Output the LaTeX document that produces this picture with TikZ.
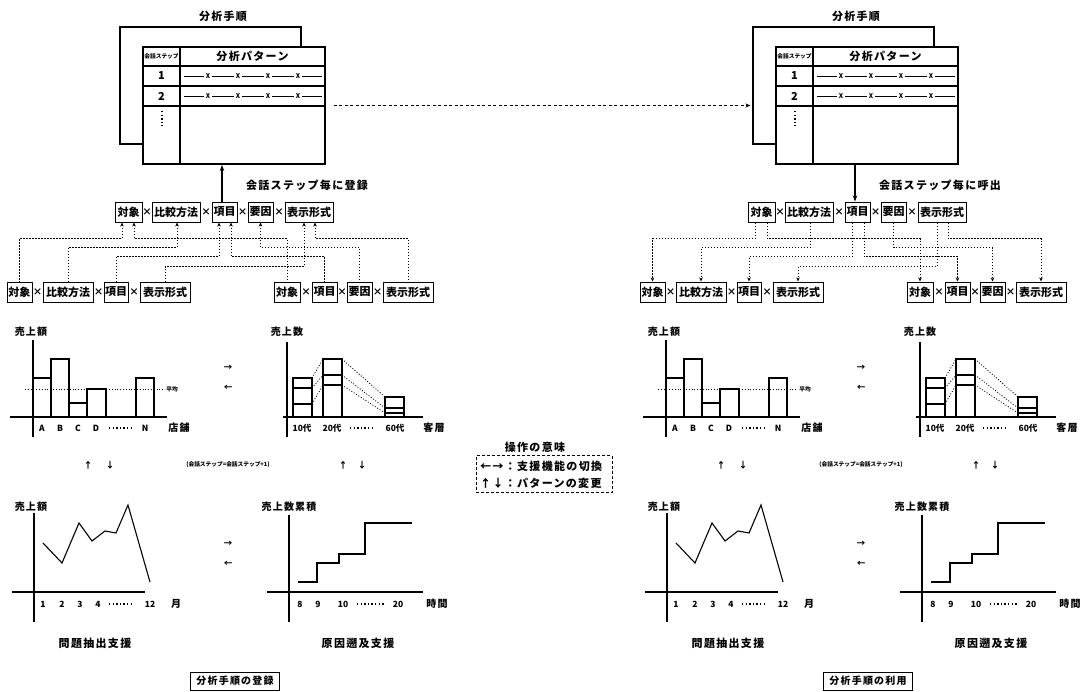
\documentclass[tikz,border=0pt]{standalone}
\usepackage{fontspec}
\setmainfont{Noto Sans CJK JP}
\usetikzlibrary{arrows.meta}
\newcommand\lsp{\addfontfeature{LetterSpace=12}}
\tikzset{
  ln/.style={line width=1.1pt},
  box/.style={draw, line width=1pt, minimum height=20pt, inner sep=0pt, font=\fontsize{11}{12}\selectfont\bfseries},
  tms/.style={inner sep=0pt, font=\fontsize{9.5}{10}\selectfont\bfseries},
  tbl/.style={draw, line width=1.1pt, inner sep=0pt},
  ttl/.style={inner sep=0pt, font=\fontsize{11}{12}\selectfont\bfseries\lsp},
  ylab/.style={inner sep=0pt, font=\fontsize{10}{11}\selectfont\bfseries\lsp},
  tk/.style={inner sep=0pt, font=\fontsize{8.5}{9}\selectfont\bfseries},
  tiny/.style={inner sep=0pt, font=\fontsize{5.7}{6}\selectfont\bfseries},
  pat/.style={inner sep=0pt, font=\fontsize{6.5}{6}\selectfont\bfseries},
  conL/.style={line width=1pt, dash pattern=on 1.5pt off 1.5pt, {Stealth[length=4pt,width=3.5pt]}-},
  conR/.style={line width=1pt, dash pattern=on 1.5pt off 1.5pt, -{Stealth[length=4pt,width=3.5pt]}},
  mainL/.style={line width=1.1pt, {Stealth[length=6pt,width=4.5pt]}-},
  mainR/.style={line width=1.1pt, -{Stealth[length=6pt,width=4.5pt]}},
  dotln/.style={line width=1.4pt, dash pattern=on 1.4pt off 2.2pt},
  avg/.style={line width=0.8pt, dash pattern=on 1pt off 1.8pt},
  capbox/.style={draw, line width=1pt, minimum width=89pt, minimum height=18pt, inner sep=0pt, font=\fontsize{10}{11}\selectfont\bfseries\lsp},
  capt/.style={inner sep=0pt, font=\fontsize{11}{12}\selectfont\bfseries\lsp},
  sym/.style={inner sep=0pt, font=\fontsize{8.5}{9}\selectfont\bfseries},
  lg/.style={inner sep=0pt, font=\fontsize{11}{12}\selectfont\bfseries\lsp},
  link/.style={line width=1pt, dash pattern=on 3pt off 2.5pt, -{Stealth[length=5pt,width=4pt]}}
}
\newcommand\bxn[5]{\node[box, minimum width=#4pt] (#1) at (#2,#3) {#5};}
\newcommand\tmsat[3]{\node[tms] (#1) at (#2,#3) {×};}
\newcommand\half[6]{%
\begin{scope}[xshift=#2pt]
% ---- table ----
\node[tbl, minimum width=181pt, minimum height=117pt] (#1-back) at (210.5,85.5) {};
\node[tbl, fill=white, minimum width=182pt, minimum height=117pt] (#1-front) at (234,105.5) {};
\node[ttl] (#1-title) at (223,16) {分析手順};
\draw[ln] (180,47) -- (180,164);
\draw[ln] (143,66) -- (325,66);
\draw[ln] (143,86) -- (325,86);
\draw[ln] (143,106) -- (325,106);
\node[tiny] (#1-hd1) at (161.5,56.5) {会話ステップ};
\node[ttl] (#1-hd2) at (252.5,56.5) {分析パターン};
\node[ttl] (#1-r1) at (161.5,76) {1};
\node[ttl] (#1-r2) at (161.5,96) {2};
\draw[dotln] (162,111) -- (162,126);
\foreach \yy in {76,96} {
  \foreach \ua/\ub in {184/204,212/234,242/264,272/294,302/322} \draw[line width=0.7pt] (\ua,\yy) -- (\ub,\yy);
  \foreach \xx in {208,238,268,298} \node[pat] at (\xx,\yy) {X};
}
% ---- boxes ----
\bxn{#1-t1}{128.5}{212}{27}{対象}
\bxn{#1-t2}{176}{212}{48}{比較方法}
\bxn{#1-t3}{224.5}{212}{25}{項目}
\bxn{#1-t4}{260.5}{212}{25}{要因}
\bxn{#1-t5}{309}{212}{48}{表示形式}
\tmsat{#1-x1}{147}{212}\tmsat{#1-x2}{206}{212}\tmsat{#1-x3}{242.5}{212}\tmsat{#1-x4}{279}{212}
\bxn{#1-b1}{19.5}{292}{25}{対象}
\bxn{#1-b2}{68}{292}{50}{比較方法}
\bxn{#1-b3}{116}{292}{24}{項目}
\bxn{#1-b4}{165}{292}{50}{表示形式}
\bxn{#1-b5}{287}{292}{26}{対象}
\bxn{#1-b6}{324.5}{292}{25}{項目}
\bxn{#1-b7}{359.5}{292}{25}{要因}
\bxn{#1-b8}{408}{292}{50}{表示形式}
\tmsat{#1-x5}{37.5}{292}\tmsat{#1-x6}{98.5}{292}\tmsat{#1-x7}{134}{292}
\tmsat{#1-x8}{306}{292}\tmsat{#1-x9}{342}{292}\tmsat{#1-x10}{377.5}{292}
\draw[#3] ([xshift=-6.5pt]#1-t1.south) -- ++(0,16) -| (#1-b1.north);
\draw[#3] ([xshift=5.5pt]#1-t1.south) -- ++(0,16) -| (#1-b5.north);
\draw[#3] ([xshift=1pt]#1-t2.south) -- ++(0,25) -| (#1-b2.north);
\draw[#3] ([xshift=-5.5pt]#1-t3.south) -- ++(0,34) -| (#1-b3.north);
\draw[#3] ([xshift=6.5pt]#1-t3.south) -- ++(0,34) -| (#1-b6.north);
\draw[#3] (#1-t4.south) -- ++(0,25) -| (#1-b7.north);
\draw[#3] ([xshift=-5pt]#1-t5.south) -- ++(0,44) -| (#1-b4.north);
\draw[#3] ([xshift=6pt]#1-t5.south) -- ++(0,16) -| (#1-b8.north);
\coordinate (#1-tbot) at (222,165);
\draw[#4] (#1-tbot) -- (#1-tbot |- #1-t3.north);
\node[ttl] (#1-lab) at (307,185) {#5};
% ---- chart 1: bars ----
\node[ylab] (#1-c1y) at (31,332) {売上額};
\draw[ln] (33,340) -- (33,437);
\draw[ln] (10,417) -- (167,417);
\draw[ln] (33,378) rectangle (51,417);
\draw[ln] (51,359) rectangle (69,417);
\draw[ln] (69,403) rectangle (87,417);
\draw[ln] (87,389) rectangle (106,417);
\draw[ln] (136,378) rectangle (154,417);
\draw[avg] (25,389) -- (165,389);
\node[tiny] (#1-avg) at (172,389) {平均};
\node[tk] at (42,428) {A};\node[tk] at (60,428) {B};\node[tk] at (78,428) {C};\node[tk] at (96,428) {D};
\draw[dotln] (109,428) -- (134,428);
\node[tk] at (145,428) {N};
\node[ylab] (#1-c1x) at (179,428) {店舗};
% ---- chart 2: stacked ----
\node[ylab] (#1-c2y) at (287,332) {売上数};
\draw[ln] (287,342) -- (287,437);
\draw[ln] (283,417) -- (423,417);
\draw[ln] (293,378) rectangle (312,417);
\draw[ln] (293,388) -- (312,388) (293,404) -- (312,404);
\draw[ln] (323,359) rectangle (342,417);
\draw[ln] (323,375) -- (342,375) (323,385) -- (342,385);
\draw[ln] (385,397) rectangle (404,417);
\draw[ln] (385,408) -- (404,408) (385,413) -- (404,413);
\draw[avg] (312,378) -- (323,359) (312,388) -- (323,375) (312,404) -- (323,385);
\draw[avg] (342,359) -- (385,397) (342,375) -- (385,408) (342,385) -- (385,413);
\node[tk] at (302,428) {10代};\node[tk] at (332,428) {20代};
\draw[dotln] (350,428) -- (372,428);
\node[tk] at (395,428) {60代};
\node[ylab] (#1-c2x) at (434,428) {客層};
\node[sym] at (228,368) {→};\node[sym] at (228,388) {←};
% ---- middle row ----
\node[sym] at (88,465) {↑};\node[sym] at (110,465) {↓};
\node[tiny] (#1-step) at (228,465) {(会話ステップ=会話ステップ+1)};
\node[sym] at (343,465) {↑};\node[sym] at (362,465) {↓};
% ---- chart 3: line ----
\node[ylab] (#1-c3y) at (31,507) {売上額};
\draw[ln] (34,513) -- (34,622);
\draw[ln] (12,592) -- (145,592);
\draw[ln] (43,543) -- (62,563) -- (79,523) -- (92,541) -- (105,531) -- (116,533) -- (128,505) -- (150,582);
\node[tk] at (43,604) {1};\node[tk] at (62,604) {2};\node[tk] at (80,604) {3};\node[tk] at (98,604) {4};
\draw[dotln] (109,604) -- (131,604);
\node[tk] at (150,604) {12};
\node[ylab] (#1-c3x) at (176,604) {月};
\node[sym] at (228,544) {→};\node[sym] at (228,564) {←};
% ---- chart 4: step ----
\node[ylab] (#1-c4y) at (289,507) {売上数累積};
\draw[ln] (289,515) -- (289,622);
\draw[ln] (267,592) -- (423,592);
\draw[ln] (298,582) -- (317,582) -- (317,563) -- (339,563) -- (339,554) -- (365,554) -- (365,523) -- (412,523);
\node[tk] at (300,604) {8};\node[tk] at (318,604) {9};\node[tk] at (343,604) {10};
\draw[dotln] (357,604) -- (385,604);
\node[tk] at (398,604) {20};
\node[ylab] (#1-c4x) at (437,604) {時間};
\node[capt] (#1-cap1) at (95,643) {問題抽出支援};
\node[capt] (#1-cap2) at (358,643) {原因遡及支援};
\node[capbox] (#1-cap) at (235,681) {#6};
\end{scope}}
\begin{document}
\begin{tikzpicture}[x=1pt,y=-1pt]
\useasboundingbox (0,0) rectangle (1084,691);
\half{L}{0}{conL}{mainL}{会話ステップ毎に登録}{分析手順の登録}
\half{R}{633}{conR}{mainR}{会話ステップ毎に呼出}{分析手順の利用}
\draw[link] ([xshift=8pt]L-front.east) -- ([xshift=-2pt]L-front.east -| R-back.west);
\node[ttl] (leg-t) at (535,447) {操作の意味};
\node[draw, line width=0.9pt, dash pattern=on 3pt off 2pt, minimum width=136pt, minimum height=37pt, inner sep=0pt] (leg) at (544,474) {};
\node[lg, anchor=west] (leg-1) at (480,466) {←→：支援機能の切換};
\node[lg, anchor=west] (leg-2) at (480,483) {↑↓：パターンの変更};
\end{tikzpicture}
\end{document}
